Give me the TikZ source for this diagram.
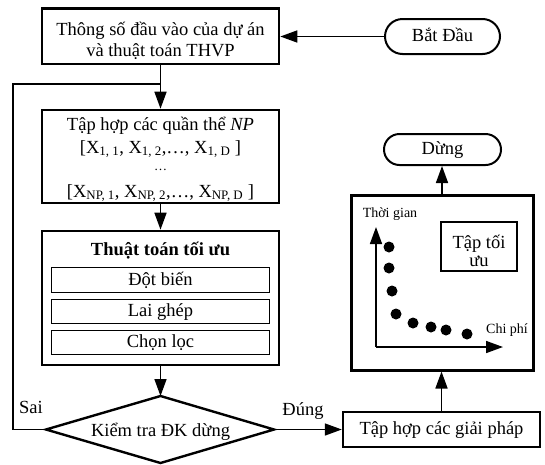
\documentclass[tikz,border=0pt]{standalone}
\usepackage{fontspec}
\setmainfont{Liberation Serif}
\usetikzlibrary{arrows.meta,shapes.misc}

\tikzset{
  txt/.style={font=\fontsize{18.5}{21}\selectfont, inner sep=0pt, anchor=base},
  smalltxt/.style={font=\fontsize{14}{16}\selectfont, inner sep=0pt, anchor=base},
  mainbox/.style={draw, line width=2.6pt, inner sep=0pt},
  subbox/.style={draw, line width=1.3pt, inner sep=0pt,
    font=\fontsize{18.5}{21}\selectfont, text height=11pt, text depth=1pt},
  termbox/.style={draw, rounded rectangle, line width=2pt, inner sep=0pt,
    font=\fontsize{18.5}{21}\selectfont, text height=11pt, text depth=1pt},
  conn/.style={line width=1.6pt},
  arr/.style={conn, -{Triangle[length=17pt,width=12pt]}},
  ptdot/.style={circle, fill=black, minimum size=11pt, inner sep=0pt},
}

\begin{document}
\begin{tikzpicture}[x=1pt,y=-1pt]
\useasboundingbox (0,0) rectangle (545,464);

% input parameters
\node[mainbox, minimum width=237pt, minimum height=55.5pt] (inp) at (160.5,36.25) {};
\node[txt] (inpA) at (160.5,35) {Thông số đầu vào của dự án};
\node[txt] (inpB) at (160.5,56) {và thuật toán THVP};

% start terminal
\node[termbox, minimum width=115pt, minimum height=35pt] (start) at (442.5,36.5) {Bắt Đầu};
\draw[arr] (start.west) -- (start.west -| inp.east);

% population
\node[mainbox, minimum width=237pt, minimum height=93pt] (pop) at (160.5,156.5) {};
\node[txt] (popA) at (160.5,130) {Tập hợp các quần thể \textit{NP}};
\node[txt] (popB) at (160.5,153) {[X\textsubscript{1, 1}, X\textsubscript{1, 2},\dots, X\textsubscript{1, D} ]};
\node[txt, font=\fontsize{13}{15}\selectfont] (popC) at (160.5,170) {\dots};
\node[txt] (popD) at (160.5,197) {[X\textsubscript{NP, 1}, X\textsubscript{NP, 2},\dots, X\textsubscript{NP, D} ]};

% optimisation algorithm
\node[mainbox, minimum width=237pt, minimum height=134pt] (opt) at (160.5,298) {};
\node[txt, font=\fontsize{18.5}{21}\selectfont\bfseries] (optT) at (160.5,255) {Thuật toán tối ưu};
\node[subbox, minimum width=218pt, minimum height=24.5pt] (mut) at (160.5,280) {Đột biến};
\node[subbox, minimum width=218pt, minimum height=24.5pt] (cross) at (160.5,311.5) {Lai ghép};
\node[subbox, minimum width=218pt, minimum height=24.5pt] (sel) at (160.5,342.5) {Chọn lọc};

% stop-condition decision
\coordinate (chkN) at (160.5,396);
\coordinate (chkE) at (274,429.5);
\coordinate (chkS) at (160.5,463);
\coordinate (chkW) at (46,429.5);
\draw[line width=2.4pt] (chkN) -- (chkE) -- (chkS) -- (chkW) -- cycle;
\node[txt] (chk) at (160.5,436) {Kiểm tra ĐK dừng};

% main flow
\draw[arr] (inp.south) -- (pop.north);
\draw[arr] (pop.south) -- (opt.north);
\draw[arr] (opt.south) -- (chkN);

% "false" loop back
\coordinate (loopA) at (13,429.5);
\coordinate (loopB) at (13,84);
\coordinate (loopC) at (160.5,84);
\draw[conn] (chkW) -- (loopA) -- (loopB) -- (loopC);
\node[txt] (no) at (31,413) {Sai};

% solution set
\node[subbox, line width=2.4pt, minimum width=197pt, minimum height=35pt] (sol) at (441.5,429.5) {Tập hợp các giải pháp};
\draw[arr] (chkE) -- (sol.west);
\node[txt] (yes) at (303,415) {Đúng};

% Pareto front panel
\node[mainbox, line width=3pt, minimum width=182pt, minimum height=175pt] (big) at (442,282.5) {};
\draw[arr] (sol.north) -- (sol.north |- big.south);

\coordinate (org) at (376,347);
\coordinate (ytip) at (376,227);
\coordinate (xtip) at (503,347);
\draw[arr] (org) -- (ytip);
\draw[arr] (org) -- (xtip);
\node[smalltxt] (ylab) at (390,217) {Thời gian};
\node[smalltxt] (xlab) at (507,333) {Chi phí};

\node[draw, line width=1.3pt, minimum width=76pt, minimum height=49pt] (front) at (479,246.5) {};
\node[txt] (frontA) at (479,248) {Tập tối};
\node[txt] (frontB) at (479,266) {ưu};

\node[ptdot] (d1) at (389,247) {};
\node[ptdot] (d2) at (389,268) {};
\node[ptdot] (d3) at (392,291) {};
\node[ptdot] (d4) at (396,314) {};
\node[ptdot] (d5) at (413,323) {};
\node[ptdot] (d6) at (431,327) {};
\node[ptdot] (d7) at (446,330) {};
\node[ptdot] (d8) at (467,334) {};

% stop terminal
\node[termbox, minimum width=117pt, minimum height=31pt] (stop) at (442.5,149.5) {Dừng};
\draw[arr] (big.north) -- (big.north |- stop.south);
\end{tikzpicture}
\end{document}
